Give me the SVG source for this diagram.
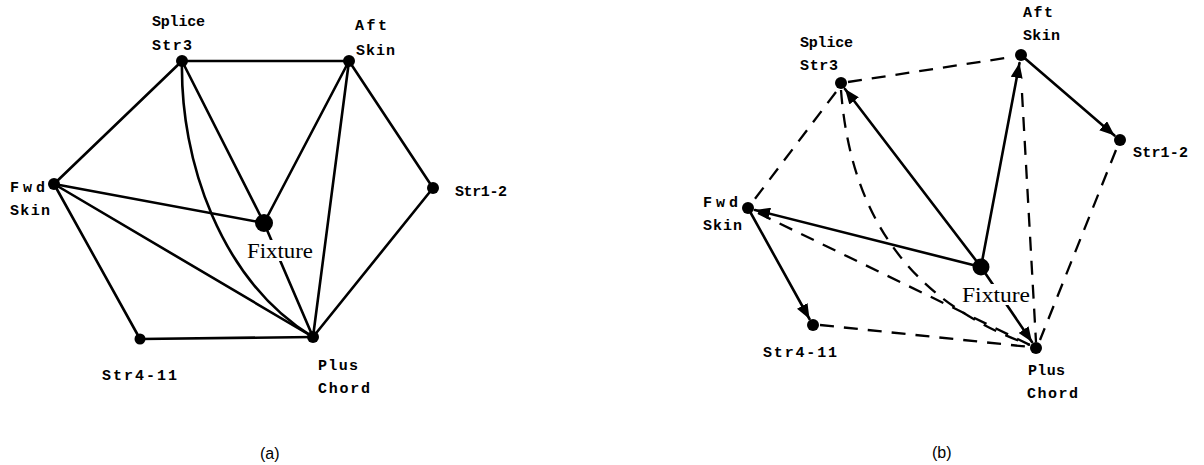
<svg xmlns="http://www.w3.org/2000/svg" width="1204" height="465" viewBox="0 0 1204 465">
<style>
.e{stroke:#000;stroke-width:2.6;fill:none;stroke-linecap:round}
.d{stroke:#000;stroke-width:2.3;fill:none;stroke-dasharray:14 10}
.n{fill:#000}
.lb{font-family:"Liberation Mono",monospace;font-size:15px;fill:#000;font-weight:bold}
.fx{font-family:"Liberation Serif",serif;font-size:22px;fill:#000}
.cap{font-family:"Liberation Sans",sans-serif;font-size:16px;fill:#000}
</style>
<defs>
<marker id="ah" markerUnits="userSpaceOnUse" markerWidth="16" markerHeight="12" refX="15" refY="6" orient="auto">
<path d="M0,0 L15,6 L0,12 z" fill="#000"/>
</marker>
</defs>
<rect width="1204" height="465" fill="#fff"/>

<g id="connectors-a">
<line class="e" x1="182" y1="61" x2="349" y2="61"/>
<line class="e" x1="182" y1="61" x2="54" y2="184"/>
<line class="e" x1="182" y1="61" x2="264" y2="223"/>
<path class="e" d="M182,61 C180,160 220,280 313,337"/>
<line class="e" x1="349" y1="61" x2="264" y2="223"/>
<line class="e" x1="349" y1="61" x2="313" y2="337"/>
<line class="e" x1="349" y1="61" x2="433" y2="188"/>
<line class="e" x1="54" y1="184" x2="264" y2="223"/>
<line class="e" x1="54" y1="184" x2="313" y2="337"/>
<line class="e" x1="54" y1="184" x2="140" y2="339"/>
<line class="e" x1="433" y1="188" x2="313" y2="337"/>
<line class="e" x1="140" y1="339" x2="313" y2="337"/>
<line class="e" x1="264" y1="223" x2="313" y2="337"/>
</g>

<g id="splice-a"><circle class="n" cx="182" cy="61" r="6"/><text class="lb" x="152" y="26" textLength="53" lengthAdjust="spacing">Splice</text><text class="lb" x="152" y="50" textLength="40" lengthAdjust="spacing">Str3</text></g>
<g id="aft-a"><circle class="n" cx="349" cy="61" r="6"/><text class="lb" x="355" y="30" textLength="32" lengthAdjust="spacing">Aft</text><text class="lb" x="356" y="55" textLength="39" lengthAdjust="spacing">Skin</text></g>
<g id="fwd-a"><circle class="n" cx="54" cy="184" r="6"/><text class="lb" x="10" y="192" textLength="35" lengthAdjust="spacing">Fwd</text><text class="lb" x="10" y="215" textLength="40" lengthAdjust="spacing">Skin</text></g>
<g id="str12-a"><circle class="n" cx="433" cy="188" r="6"/><text class="lb" x="455" y="196" textLength="52" lengthAdjust="spacing">Str1-2</text></g>
<g id="fixture-a"><rect x="245" y="240" width="70" height="21" fill="#fff"/><circle class="n" cx="264" cy="223" r="9"/><text class="fx" x="247" y="258" textLength="66" lengthAdjust="spacingAndGlyphs">Fixture</text></g>
<g id="str411-a"><circle class="n" cx="140" cy="339" r="5.5"/><text class="lb" x="102" y="380" textLength="75" lengthAdjust="spacing">Str4-11</text></g>
<g id="plus-a"><circle class="n" cx="313" cy="337" r="6"/><text class="lb" x="318" y="370" textLength="40" lengthAdjust="spacing">Plus</text><text class="lb" x="318" y="393" textLength="52" lengthAdjust="spacing">Chord</text></g>
<text class="cap" x="260" y="459">(a)</text>

<g id="connectors-b">
<line class="d" x1="848" y1="82" x2="1012" y2="57"/>
<line class="d" x1="836" y1="92" x2="748" y2="208"/>
<path class="d" d="M841,90 C850,210 905,300 1030,345"/>
<line class="d" x1="758" y1="213" x2="1030" y2="345"/>
<line class="d" x1="820" y1="325" x2="1030" y2="347"/>
<line class="d" x1="1022" y1="93" x2="1036" y2="342"/>
<line class="d" x1="1116" y1="150" x2="1040" y2="340"/>
<line class="e" x1="981" y1="267" x2="845" y2="89" marker-end="url(#ah)"/>
<line class="e" x1="981" y1="267" x2="1019.5" y2="63" marker-end="url(#ah)"/>
<line class="e" x1="981" y1="267" x2="755" y2="210" marker-end="url(#ah)"/>
<line class="e" x1="1021" y1="55" x2="1114.5" y2="135.5" marker-end="url(#ah)"/>
<line class="e" x1="748" y1="208" x2="809.5" y2="319" marker-end="url(#ah)"/>
<line class="e" x1="981" y1="267" x2="1032" y2="342" marker-end="url(#ah)"/>
</g>

<g id="splice-b"><circle class="n" cx="841" cy="83" r="6"/><text class="lb" x="800" y="47" textLength="53" lengthAdjust="spacing">Splice</text><text class="lb" x="800" y="70" textLength="38" lengthAdjust="spacing">Str3</text></g>
<g id="aft-b"><circle class="n" cx="1021" cy="55" r="6"/><text class="lb" x="1023" y="17" textLength="30" lengthAdjust="spacing">Aft</text><text class="lb" x="1023" y="40" textLength="37" lengthAdjust="spacing">Skin</text></g>
<g id="str12-b"><circle class="n" cx="1120" cy="140" r="6"/><text class="lb" x="1133" y="157" textLength="55" lengthAdjust="spacing">Str1-2</text></g>
<g id="fwd-b"><circle class="n" cx="748" cy="208" r="6"/><text class="lb" x="703" y="207" textLength="35" lengthAdjust="spacing">Fwd</text><text class="lb" x="703" y="230" textLength="39" lengthAdjust="spacing">Skin</text></g>
<g id="fixture-b"><rect x="961" y="284" width="69" height="21" fill="#fff"/><circle class="n" cx="981" cy="267" r="8.5"/><text class="fx" x="962" y="302" textLength="68" lengthAdjust="spacingAndGlyphs">Fixture</text></g>
<g id="str411-b"><circle class="n" cx="813" cy="325" r="6"/><text class="lb" x="763" y="357" textLength="74" lengthAdjust="spacing">Str4-11</text></g>
<g id="plus-b"><circle class="n" cx="1036" cy="348" r="6"/><text class="lb" x="1028" y="375" textLength="37" lengthAdjust="spacing">Plus</text><text class="lb" x="1027" y="398" textLength="51" lengthAdjust="spacing">Chord</text></g>
<text class="cap" x="932" y="458">(b)</text>
</svg>
